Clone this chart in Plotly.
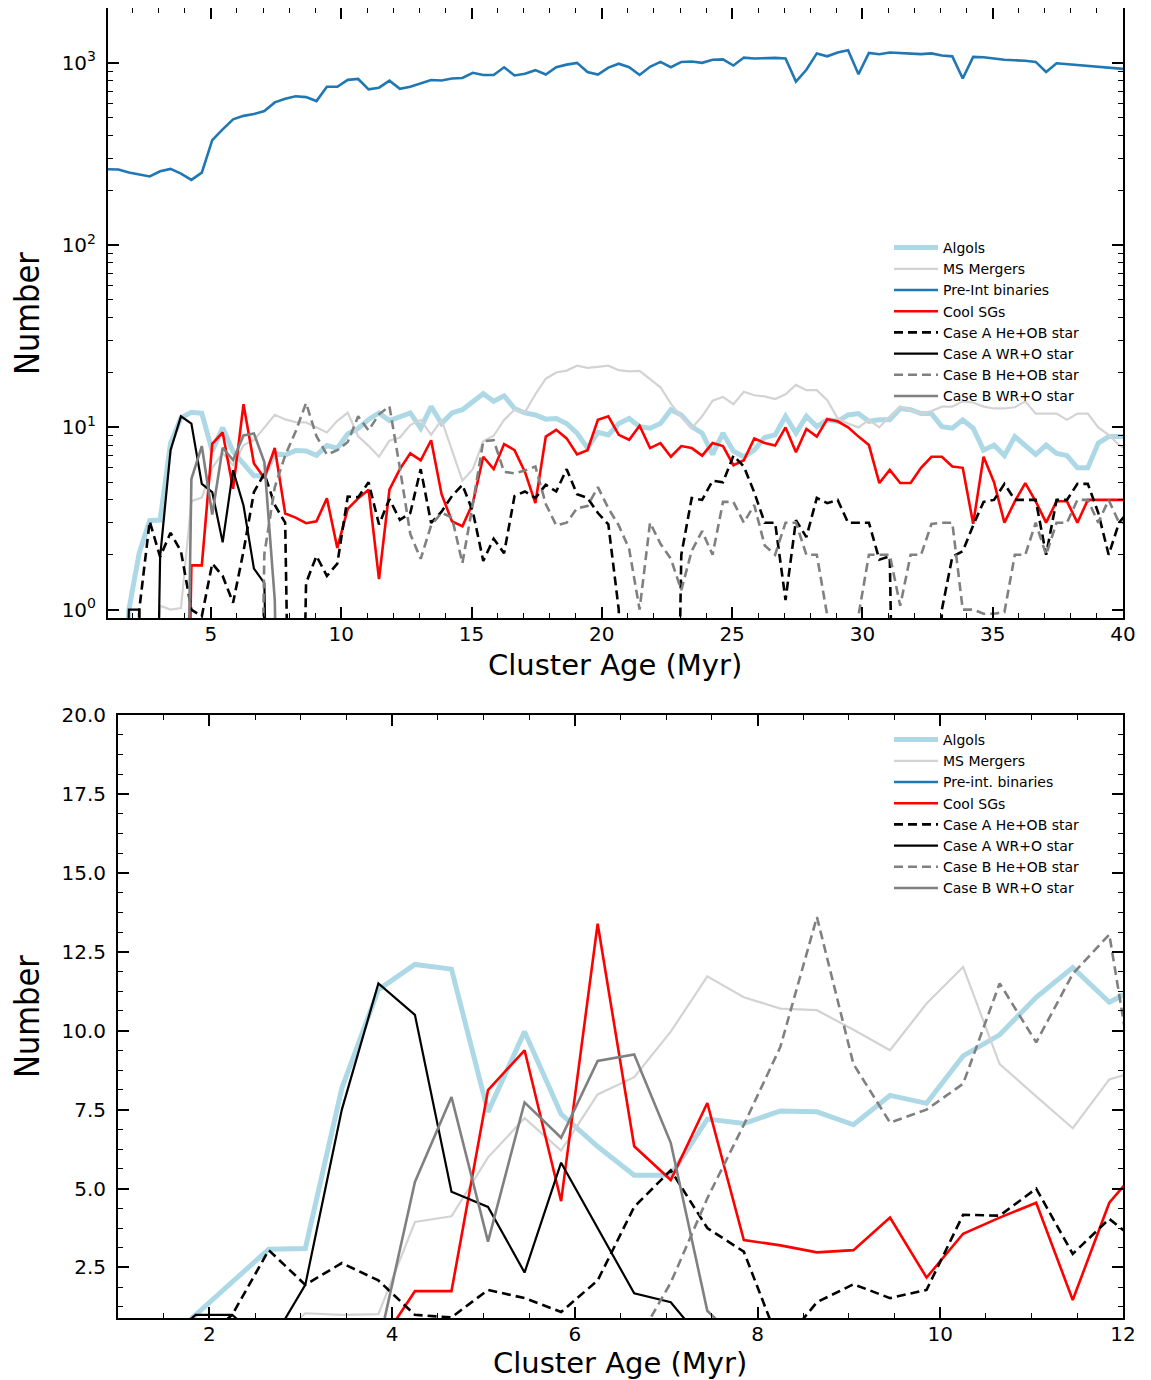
import plotly.graph_objects as go

# ---------------- data ----------------
AGE = [1.05, 1.45, 1.85, 2.25, 2.65, 3.05, 3.45, 3.85, 4.25, 4.65,
       5.05, 5.45, 5.85, 6.25, 6.65, 7.05, 7.45, 7.85, 8.25, 8.65,
       9.05, 9.45, 9.85, 10.25, 10.65, 11.05, 11.45, 11.85, 12.25, 12.65,
       13.05, 13.45, 13.85, 14.25, 14.65, 15.05, 15.45, 15.85, 16.25, 16.65,
       17.05, 17.45, 17.85, 18.25, 18.65, 19.05, 19.45, 19.85, 20.25, 20.65,
       21.05, 21.45, 21.85, 22.25, 22.65, 23.05, 23.45, 23.85, 24.25, 24.65,
       25.05, 25.45, 25.85, 26.25, 26.65, 27.05, 27.45, 27.85, 28.25, 28.65,
       29.05, 29.45, 29.85, 30.25, 30.65, 31.05, 31.45, 31.85, 32.25, 32.65,
       33.05, 33.45, 33.85, 34.25, 34.65, 35.05, 35.45, 35.85, 36.25, 36.65,
       37.05, 37.45, 37.85, 38.25, 38.65, 39.05, 39.45, 39.85, 40.25]

ALGOLS = [0, 0, 1.0, 2.05, 3.08, 3.1, 8.18, 11.3, 12.1, 11.95,
          7.43, 9.97, 7.36, 6.33, 5.42, 5.42, 7.2, 7.06, 7.46, 7.43,
          7.02, 7.95, 7.7, 9.2, 9.87, 11.06, 12.0, 10.9, 11.5, 12.0,
          9.9, 13.0, 10.5, 12.0, 12.5, 13.7, 15.3, 13.9, 14.9, 12.7,
          12.0, 11.7, 11.1, 11.2, 10.5, 9.3, 7.7, 9.4, 9.1, 10.5,
          11.2, 10.1, 9.9, 10.5, 12.5, 11.7, 10.1, 9.3, 7.1, 9.3,
          7.4, 6.9, 7.5, 8.8, 9.1, 11.5, 9.3, 11.5, 10.1, 11.0,
          10.8, 11.7, 11.9, 10.8, 11.0, 11.0, 12.7, 12.5, 11.9, 11.9,
          10.1, 9.9, 11.0, 9.9, 7.5, 8.0, 7.0, 8.9, 7.9, 7.1,
          8.0, 7.2, 7.0, 6.0, 6.0, 8.2, 8.9, 8.9, 8.9]

MS_MERGERS = [0, 0, 0, 0, 0, 1.05, 1.0, 1.02, 3.94, 4.12,
              5.99, 7.23, 6.2, 7.98, 8.53, 9.97, 11.72, 11.06, 10.7, 10.65,
              10.03, 9.38, 10.86, 12.02, 8.94, 7.92, 6.91, 8.46, 8.8, 10.3,
              11.0, 9.1, 11.0, 7.5, 5.1, 5.9, 8.4, 9.0, 11.0, 12.5,
              12.1, 15.2, 18.5, 20.0, 20.5, 21.8, 21.2, 21.5, 21.8, 20.6,
              20.3, 20.4, 18.5, 16.6, 13.5, 11.4, 9.9, 11.5, 14.0, 14.7,
              13.4, 15.7, 15.0, 14.8, 14.3, 15.2, 17.1, 16.0, 16.0, 14.1,
              11.2, 10.5, 10.0, 11.0, 10.0, 11.5, 13.0, 12.5, 11.9, 12.3,
              13.0, 13.0, 13.9, 13.7, 13.0, 12.7, 12.7, 12.9, 13.9, 11.9,
              11.9, 11.9, 11.0, 11.9, 11.9, 10.0, 9.1, 8.0, 7.5]

PRE_INT = [261, 260, 250, 244, 238, 254, 262, 247, 228, 250,
           377, 432, 490, 512, 524, 544, 607, 635, 656, 649,
           617, 739, 739, 807, 816, 716, 731, 798, 720, 739,
           769, 805, 800, 820, 826, 882, 858, 858, 946, 853,
           871, 912, 863, 946, 978, 1000, 891, 863, 942, 989,
           946, 858, 952, 1012, 946, 1012, 1017, 1000, 1040, 1045,
           967, 1069, 1057, 1062, 1065, 1057, 790, 916, 1127, 1086,
           1140, 1172, 867, 1134, 1116, 1140, 1134, 1122, 1116, 1127,
           1097, 1086, 821, 1079, 1074, 1057, 1040, 1033, 1028, 1012,
           891, 995, 985, 973, 967, 957, 946, 931, 920]

COOL_SGS = [0, 0, 0, 0, 0, 0, 0, 0, 1.75, 1.75,
            8.12, 9.38, 4.6, 13.39, 6.34, 5.27, 7.71, 3.37, 3.2, 2.98,
            3.05, 4.08, 2.18, 3.57, 4.08, 4.55, 1.47, 4.55, 5.9, 7.2,
            6.6, 8.5, 4.3, 3.05, 2.87, 3.84, 6.9, 5.9, 8.1, 7.5,
            5.7, 3.84, 8.9, 9.7, 8.7, 7.1, 7.5, 11.0, 11.5, 9.1,
            8.55, 10.2, 7.7, 8.2, 6.9, 7.9, 7.7, 7.0, 8.2, 7.9,
            6.2, 6.6, 8.7, 8.2, 7.95, 10.0, 7.3, 9.8, 8.9, 11.1,
            10.8, 10.0, 8.9, 8.0, 4.95, 5.85, 4.95, 4.95, 6.0, 6.9,
            6.9, 6.1, 6.0, 2.96, 6.9, 5.0, 3.0, 3.93, 4.95, 3.93,
            3.0, 3.93, 3.93, 3.0, 4.0, 4.0, 4.0, 4.0, 4.0]

CASE_A_HE_OB = [0, 0, 0, 1.0, 3.05, 1.95, 2.64, 2.09, 1.0, 0.92,
                1.79, 1.53, 1.09, 2.09, 4.42, 5.58, 3.75, 3.0, 0, 1.4,
                1.97, 1.53, 1.79, 4.17, 4.14, 5.0, 2.93, 4.04, 3.11, 3.39,
                5.9, 2.99, 3.45, 4.2, 4.84, 3.45, 1.85, 2.45, 2.04, 4.2,
                4.45, 4.1, 4.84, 4.45, 5.9, 4.3, 4.1, 3.39, 2.94, 1.0,
                0, 0, 0, 0, 0, 2.0, 4.1, 4.0, 5.1, 5.0,
                7.0, 6.1, 4.4, 3.0, 3.0, 1.13, 3.1, 2.5, 4.1, 3.84,
                4.0, 3.0, 3.0, 3.0, 1.88, 1.96, 0, 0, 0, 0,
                1.0, 1.95, 2.09, 2.9, 3.9, 4.0, 4.9, 4.0, 4.0, 4.0,
                2.0, 4.0, 4.0, 4.9, 4.9, 3.4, 2.0, 3.0, 3.5]

# zero after the last listed age
CASE_A_WR_O = [0, 0, 1.0, 1.0, 0, 1.95, 7.5, 11.5, 10.5, 4.9,
               4.42, 2.34, 5.82, 3.73, 1.68, 1.4, 0]

CASE_B_HE_OB = [0, 0, 0, 0, 0, 0, 0, 0, 0, 0,
                0, 0, 0, 0, 0, 2.02, 4.69, 7.02, 9.49, 13.6,
                8.94, 7.09, 7.5, 8.32, 11.5, 9.63, 11.8, 13.05, 6.0, 2.6,
                1.9, 2.9, 3.4, 3.2, 1.8, 3.8, 8.4, 8.5, 5.7, 5.6,
                5.8, 6.1, 3.8, 2.9, 3.0, 3.6, 3.7, 4.7, 3.6, 2.9,
                2.15, 1.0, 3.0, 2.3, 1.9, 1.28, 2.1, 2.7, 2.0, 3.9,
                3.9, 3.0, 3.75, 2.25, 2.0, 3.0, 3.0, 2.0, 2.0, 0.93,
                0, 0, 0.93, 2.0, 2.0, 2.0, 1.05, 2.0, 2.0, 2.95,
                3.0, 3.0, 1.0, 1.0, 0.95, 0.95, 0.97, 2.0, 2.0, 3.0,
                2.0, 3.0, 3.0, 4.0, 4.0, 3.0, 4.0, 3.0, 3.0]

# zero after the last listed age
CASE_B_WR_O = [0, 0, 0, 0, 0, 0, 0, 0, 5.21, 7.9,
               3.32, 7.73, 6.61, 9.04, 9.25, 6.45, 1.13, 0]

LABELS_TOP = ["Algols", "MS Mergers", "Pre-Int binaries", "Cool SGs",
              "Case A He+OB star", "Case A WR+O star", "Case B He+OB star", "Case B WR+O star"]
LABELS_BOTTOM = ["Algols", "MS Mergers", "Pre-int. binaries", "Cool SGs",
                 "Case A He+OB star", "Case A WR+O star", "Case B He+OB star", "Case B WR+O star"]
SERIES = [ALGOLS, MS_MERGERS, PRE_INT, COOL_SGS, CASE_A_HE_OB, CASE_A_WR_O, CASE_B_HE_OB, CASE_B_WR_O]

TOP_YTICKS = [1, 10, 100, 1000]
TOP_YTICKTEXT = ["10<sup>0</sup>", "10<sup>1</sup>", "10<sup>2</sup>", "10<sup>3</sup>"]
TOP_XTICKS = [5, 10, 15, 20, 25, 30, 35, 40]
BOT_XTICKS = [2, 4, 6, 8, 10, 12]
BOT_YTICKS = [2.5, 5.0, 7.5, 10.0, 12.5, 15.0, 17.5, 20.0]

# ---------------- styles ----------------
COLORS = ["#add8e6", "#d3d3d3", "#1f77b4", "#ff0000", "#000000", "#000000", "#808080", "#808080"]
WIDTHS = [5.0, 2.2, 2.6, 2.6, 2.6, 2.2, 2.6, 2.6]
DASH = "9px,5px"
DASHES = ["solid", "solid", "solid", "solid", DASH, "solid", DASH, "solid"]

# the page body has an 8px margin: lay out in page pixels and shift
OFF = 8
W, H = 1151 - OFF, 1380 - OFF
def fx(px):
    return (px - OFF) / W
def fy(py):
    return 1 - (py - OFF) / H

TICKFONT = dict(family="DejaVu Sans", size=20, color="black")

fig = go.Figure()
for i, (vals, lt, lb) in enumerate(zip(SERIES, LABELS_TOP, LABELS_BOTTOM)):
    xs = AGE[:len(vals)]
    ylog = [v if v > 0 else 1e-3 for v in vals]
    line = dict(color=COLORS[i], width=WIDTHS[i], dash=DASHES[i])
    fig.add_trace(go.Scatter(x=xs, y=ylog, mode="lines", name=lt, line=line,
                             xaxis="x", yaxis="y", legend="legend", legendgroup="t%d" % i))
    fig.add_trace(go.Scatter(x=xs, y=vals, mode="lines", name=lb, line=line,
                             xaxis="x2", yaxis="y2", legend="legend2", legendgroup="b%d" % i))

common_axis = dict(showline=True, linecolor="black", linewidth=2, mirror="ticks",
                   ticks="inside", ticklen=11, tickwidth=1.5, tickcolor="black",
                   showgrid=False, zeroline=False, tickfont=TICKFONT, automargin=False)

minor_log = [m * d for d in (1, 10, 100, 1000) for m in range(2, 10) if m * d <= 2000]

LEGEND_FONT = dict(family="DejaVu Sans", size=14, color="black")

fig.update_layout(
    template="none",
    width=W, height=H, autosize=False,
    margin=dict(l=0, r=0, t=0, b=0, autoexpand=False),
    paper_bgcolor="white", plot_bgcolor="white",
    xaxis=dict(domain=[fx(108), fx(1123)], range=[1.05, 40], anchor="y",
               tickmode="array", tickvals=TOP_XTICKS, ticklabelstandoff=-3,
               minor=dict(ticks="inside", ticklen=5, tickwidth=1.2, tickcolor="black", dtick=1, tick0=0),
               **common_axis),
    yaxis=dict(domain=[fy(618), fy(8)], type="log", range=[-0.0458, 3.301], anchor="x",
               tickmode="array", tickvals=TOP_YTICKS, ticktext=TOP_YTICKTEXT, ticklabelstandoff=6,
               minor=dict(ticks="inside", ticklen=5, tickwidth=1.2, tickcolor="black",
                          tickmode="array", tickvals=minor_log),
               **common_axis),
    xaxis2=dict(domain=[fx(118), fx(1123)], range=[1, 12], anchor="y2",
                tickmode="array", tickvals=BOT_XTICKS, ticklabelstandoff=-3,
                minor=dict(ticks="inside", ticklen=5, tickwidth=1.2, tickcolor="black", dtick=0.5, tick0=0),
                **common_axis),
    yaxis2=dict(domain=[fy(1318), fy(715)], range=[0.9, 20], anchor="x2",
                tickmode="array", tickvals=BOT_YTICKS, tickformat=".1f", ticklabelstandoff=6,
                minor=dict(ticks="inside", ticklen=5, tickwidth=1.2, tickcolor="black", dtick=0.625, tick0=0),
                **common_axis),
    legend=dict(x=fx(889), y=fy(232), xanchor="left", yanchor="top",
                bgcolor="rgba(0,0,0,0)", borderwidth=0, tracegroupgap=0, itemwidth=44,
                font=LEGEND_FONT),
    legend2=dict(x=fx(889), y=fy(724), xanchor="left", yanchor="top",
                 bgcolor="rgba(0,0,0,0)", borderwidth=0, tracegroupgap=0, itemwidth=44,
                 font=LEGEND_FONT),
    showlegend=True,
)

TITLE_FONT = dict(family="DejaVu Sans", size=29, color="black")
NUM_FONT = dict(family="Liberation Sans Narrow, DejaVu Sans Condensed, Arial Narrow, sans-serif", size=34, color="black")
ann = [
    dict(text="Cluster Age (Myr)", x=fx(615), y=fy(665), font=TITLE_FONT),
    dict(text="Cluster Age (Myr)", x=fx(620), y=fy(1363), font=TITLE_FONT),
    dict(text="Number", x=fx(27), y=fy(314), font=NUM_FONT, textangle=-90),
    dict(text="Number", x=fx(27), y=fy(1017), font=NUM_FONT, textangle=-90),
]
for a in ann:
    fig.add_annotation(xref="paper", yref="paper", showarrow=False, borderpad=0,
                       xanchor="center", yanchor="middle", **a)

fig.write_html("out.html")
